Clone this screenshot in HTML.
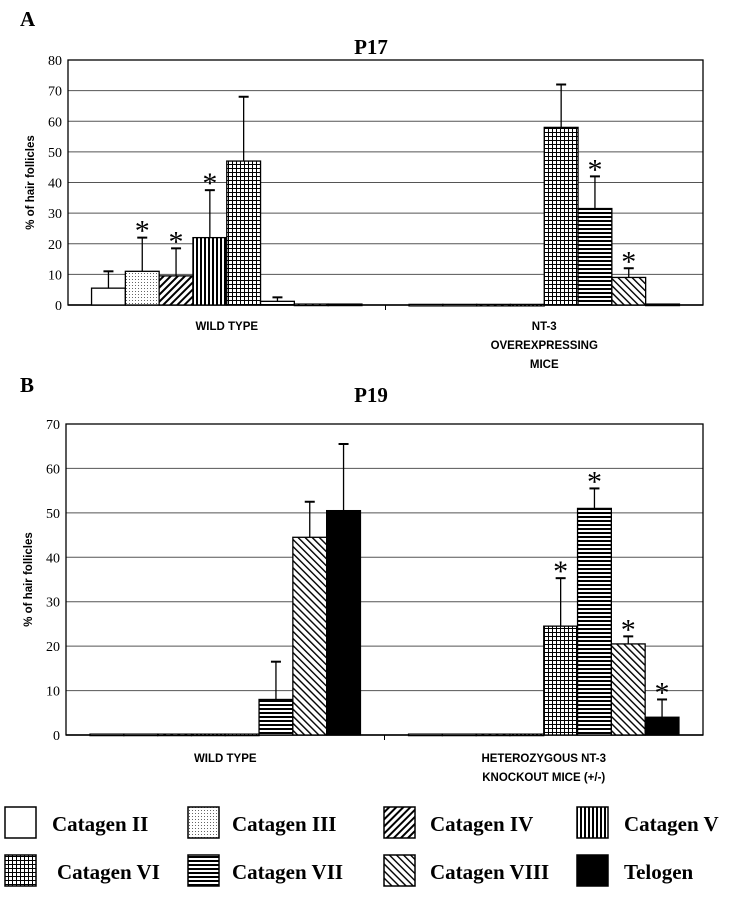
<!DOCTYPE html>
<html><head><meta charset="utf-8"><style>
body{margin:0;background:#fff;width:732px;height:899px;overflow:hidden}
svg{display:block}
.tk{font-family:"Liberation Serif",serif;font-size:14px}
.cat{font-family:"Liberation Sans",sans-serif;font-size:11.5px;font-weight:bold}
.ttl{font-family:"Liberation Serif",serif;font-size:21px;font-weight:bold}
.lg{font-family:"Liberation Serif",serif;font-size:21px;font-weight:bold}
</style></head><body>
<svg id="svg" width="732" height="899" viewBox="0 0 732 899">
<defs>
<pattern id="p0" width="4" height="4" patternUnits="userSpaceOnUse"><rect width="4" height="4" fill="#fff"/></pattern>
<pattern id="p1" width="3" height="3" patternUnits="userSpaceOnUse"><rect width="3" height="3" fill="#fff"/><rect width="1" height="1" fill="#666"/></pattern>
<pattern id="p2" width="5" height="5" patternUnits="userSpaceOnUse" patternTransform="rotate(45)"><rect width="5" height="5" fill="#fff"/><rect width="2" height="5" fill="#000"/></pattern>
<pattern id="p3" width="4" height="4" patternUnits="userSpaceOnUse"><rect width="4" height="4" fill="#fff"/><rect width="2" height="4" fill="#000"/></pattern>
<pattern id="p4" width="4" height="4" patternUnits="userSpaceOnUse"><rect width="4" height="4" fill="#fff"/><rect width="1" height="4" fill="#000"/><rect width="4" height="1" fill="#000"/></pattern>
<pattern id="p5" width="4" height="4" patternUnits="userSpaceOnUse"><rect width="4" height="4" fill="#fff"/><rect width="4" height="2" fill="#000"/></pattern>
<pattern id="p6" width="5" height="5" patternUnits="userSpaceOnUse" patternTransform="rotate(-45)"><rect width="5" height="5" fill="#fff"/><rect width="1.4" height="5" fill="#000"/></pattern>
<pattern id="p7" width="4" height="4" patternUnits="userSpaceOnUse"><rect width="4" height="4" fill="#000"/></pattern>
</defs>
<text x="20" y="26" class="ttl">A</text>
<text x="371" y="54" class="ttl" text-anchor="middle">P17</text>
<text x="20" y="392" class="ttl">B</text>
<text x="371" y="402" class="ttl" text-anchor="middle">P19</text>
<g id="chartA"></g>
<g id="chartB"></g>
<g id="legend"></g>
</svg>
<script>
const stages=["Catagen II","Catagen III","Catagen IV","Catagen V","Catagen VI","Catagen VII","Catagen VIII","Telogen"];
const aTicks=[0,10,20,30,40,50,60,70,80];
const aWT=[5.5,11,9.5,22,47,1.2,0.3,0.3];
const aWTerr=[11,22,18.5,37.5,68,2.5,null,null];
const aWTstar=[0,1,1,1,0,0,0,0];
const aNT=[0.2,0.2,0.2,0.2,58,31.5,9,0.3];
const aNTerr=[null,null,null,null,72,42,12,null];
const aNTstar=[0,0,0,0,0,1,1,0];
const bTicks=[0,10,20,30,40,50,60,70];
const bWT=[0.2,0.2,0.2,0.2,0.2,8,44.5,50.5];
const bWTerr=[null,null,null,null,null,16.5,52.5,65.5];
const bWTstar=[0,0,0,0,0,0,0,0];
const bKO=[0.2,0.2,0.2,0.2,24.5,51,20.5,4];
const bKOerr=[null,null,null,null,35.3,55.5,22.2,8];
const bKOstar=[0,0,0,0,1,1,1,1];
const NS="http://www.w3.org/2000/svg";
function mk(p,t,a){const e=document.createElementNS(NS,t);for(const k in a)e.setAttribute(k,a[k]);p.appendChild(e);return e;}
function chart(g,L,R,T,B,ticks,groups,cats,catY){
  const max=ticks[ticks.length-1];
  const y=v=>B-(v/max)*(B-T);
  ticks.forEach(t=>{
    const l=mk(g,'line',{x1:L,x2:R,y1:y(t),y2:y(t),stroke:t===0?'#000':'#555','stroke-width':t===0?1.5:1});
    
    
    const tx=mk(g,'text',{x:L-6,y:y(t)+5,'text-anchor':'end',class:'tk'});tx.textContent=t;
    
    
  });
  mk(g,'rect',{x:L,y:T,width:R-L,height:B-T,fill:'none',stroke:'#000','stroke-width':1.3});
  const mid=(L+R)/2;
  mk(g,'line',{x1:mid,x2:mid,y1:B,y2:B+5,stroke:'#000'});
  const yl=mk(g,'text',{transform:`translate(${L-34},${(T+B)/2}) rotate(-90)`,'text-anchor':'middle',class:'cat'});
  yl.textContent='% of hair follicles';
  
  
  const gw=(R-L)/2, bw=33.8;
  groups.forEach((gr,gi)=>{
    const x0=L+gi*gw+(gw-bw*8)/2;
    gr.v.forEach((v,i)=>{
      const x=x0+i*bw;
      if(gr.e[i]!=null){
        mk(g,'line',{x1:x+bw/2,x2:x+bw/2,y1:y(v),y2:y(gr.e[i]),stroke:'#000','stroke-width':1.3});
        mk(g,'line',{x1:x+bw/2-5,x2:x+bw/2+5,y1:y(gr.e[i]),y2:y(gr.e[i]),stroke:'#000','stroke-width':2});
      }
      const r=mk(g,'rect',{x:x,y:y(v),width:bw,height:Math.max(B-y(v),1.5),fill:`url(#p${i})`,stroke:'#000','stroke-width':1.3});
      
      
      if(gr.s[i]){
        const top=gr.e[i]!=null?y(gr.e[i]):y(v);
        const st=mk(g,'text',{x:x+bw/2,y:top+3,'text-anchor':'middle',style:'font-family:"Liberation Serif",serif;font-size:30px'});
        st.textContent='*';
        
        
      }
    });
    cats[gi].forEach((line,li)=>{
      const t=mk(g,'text',{x:L+gi*gw+gw/2,y:catY+li*19,'text-anchor':'middle',class:'cat'});
      t.textContent=line;
      
      
    });
  });
}
chart(document.getElementById('chartA'),68,703,60,305,aTicks,
  [{v:aWT,e:aWTerr,s:aWTstar},{v:aNT,e:aNTerr,s:aNTstar}],
  [["WILD TYPE"],["NT-3","OVEREXPRESSING","MICE"]],330);
chart(document.getElementById('chartB'),66,703,424,735,bTicks,
  [{v:bWT,e:bWTerr,s:bWTstar},{v:bKO,e:bKOerr,s:bKOstar}],
  [["WILD TYPE"],["HETEROZYGOUS NT-3","KNOCKOUT MICE (+/-)"]],762);
const lg=document.getElementById('legend');
const lx=[5,188,384,577], ly=[807,855];
const tx=[52,232,430,624];
stages.forEach((s,i)=>{
  const r=Math.floor(i/4),c=i%4;
  const b=mk(lg,'rect',{x:lx[c],y:ly[r],width:31,height:31,fill:`url(#p${i})`,stroke:'#000','stroke-width':1.5});
  
  
  const t=mk(lg,'text',{x:tx[c]+(r&&c==0?5:0),y:ly[r]+24,class:'lg'});
  t.textContent=s;
  
  
});
</script>
</body></html>
